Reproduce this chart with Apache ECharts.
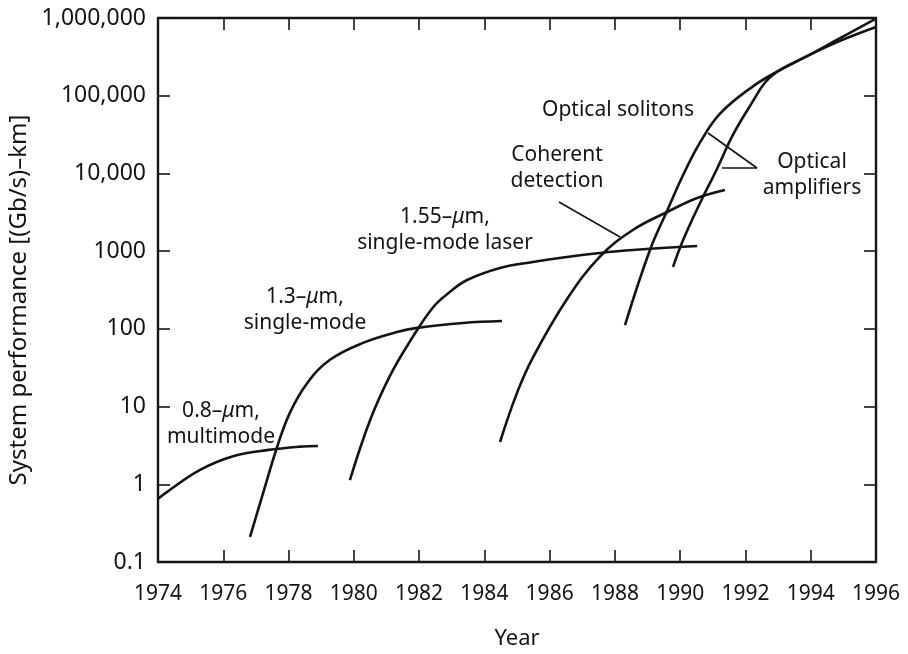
<!DOCTYPE html>
<html>
<head>
<meta charset="utf-8">
<script src="https://cdn.jsdelivr.net/npm/echarts@6/dist/echarts.min.js"></script>
<style>
html,body{margin:0;padding:0;background:#fff;}
#chart{width:908px;height:654px;}
</style>
</head>
<body>
<div id="chart"></div>
<script>
// ---- Data ----
const xTickLabels = ['1974','1976','1978','1980','1982','1984','1986','1988','1990','1992','1994','1996'];
const yTickLabels = ['0.1','1','10','100','1000','10,000','100,000','1,000,000'];

// 0.8-um multimode
const years08 = [1974.0, 1974.28, 1975.29, 1976.30, 1977.34, 1978.35, 1978.9];
const vals08  = [0.65, 0.80, 1.53, 2.29, 2.75, 3.05, 3.11];

// 1.3-um single-mode
const years13 = [1976.82, 1977.22, 1977.65, 1978.04, 1978.57, 1979.27, 1980.28, 1981.32, 1981.94, 1983.35, 1984.54];
const vals13  = [0.21, 0.77, 3.02, 8.3, 20, 40, 66, 91, 103, 119, 126];

// 1.55-um single-mode laser
const years155 = [1979.88, 1980.50, 1981.11, 1981.72, 1982.43, 1982.95, 1983.47, 1984.48, 1985.49, 1986.53, 1987.54, 1988.55, 1990.52];
const vals155  = [1.13, 6.7, 25, 69, 190, 300, 425, 607, 725, 841, 947, 1035, 1165];

// Coherent detection
const yearsCoh = [1984.48, 1985.0, 1985.49, 1986.53, 1987.54, 1988.55, 1989.60, 1990.52, 1991.37];
const valsCoh  = [3.5, 15, 43, 240, 850, 1870, 3190, 4830, 6120];

// Optical solitons / amplifiers (left steep curve)
const yearsAmpA = [1988.31, 1989.08, 1989.60, 1990.09, 1990.61, 1991.22, 1992.23, 1993.06, 1993.89, 1994.81, 1996.0];
const valsAmpA  = [112, 1050, 3310, 9550, 25100, 58900, 132000, 214000, 324000, 525000, 980000];

// Optical amplifiers (right steep curve)
const yearsAmpB = [1989.78, 1990.09, 1990.61, 1991.13, 1991.62, 1992.23, 1992.6, 1992.97, 1993.5, 1994.81, 1996.0];
const valsAmpB  = [625, 1390, 4170, 11500, 31600, 85100, 148000, 204000, 269000, 490000, 766000];

// ---- Build chart ----
const zip = (xs, ys) => xs.map((x, i) => [x, ys[i]]);
const FONT = '"Noto Sans", "DejaVu Sans", sans-serif';
const INK = '#141414';

const xMin = 1974, xMax = 1996, xStep = 2;

function curve(name, xs, ys) {
  return {
    name: name, type: 'line', data: zip(xs, ys),
    xAxisIndex: 0, yAxisIndex: 0,
    smooth: 0.4, showSymbol: false, symbol: 'none',
    lineStyle: { color: INK, width: 2.6 },
    emphasis: { disabled: true }, silent: true
  };
}

const commonX = {
  type: 'value', min: xMin, max: xMax, interval: xStep,
  axisLine: { show: true, lineStyle: { color: INK, width: 2.4 } },
  axisTick: { show: true, inside: true, length: 12, lineStyle: { color: INK, width: 1.6 } },
  splitLine: { show: false }
};
const commonY = {
  type: 'log', logBase: 10, min: 0.1, max: 1000000, splitNumber: 7,
  axisLine: { show: true, lineStyle: { color: INK, width: 2.4 } },
  axisTick: { show: true, inside: true, length: 12, lineStyle: { color: INK, width: 1.6 } },
  splitLine: { show: false }
};

const chart = echarts.init(document.getElementById('chart'), null, { renderer: 'canvas' });

const ANN = 21;
function label(text, x, y, align) {
  return {
    type: 'text', x: x, y: y, silent: true,
    style: {
      text: text, font: ANN + 'px ' + FONT, fontFamily: FONT, fontSize: ANN,
      fill: INK, align: align || 'center', verticalAlign: 'middle',
      textAlign: align || 'center', textVerticalAlign: 'middle', lineHeight: 26,
      rich: { it: { fontStyle: 'italic', fontFamily: FONT, fontSize: ANN, fill: INK, color: INK } }
    }
  };
}
function leader(x1, y1, x2, y2) {
  return { type: 'line', silent: true, shape: { x1, y1, x2, y2 }, style: { stroke: INK, lineWidth: 1.6 } };
}

chart.setOption({
  animation: false,
  backgroundColor: '#ffffff',
  textStyle: { fontFamily: FONT },
  grid: { left: 158, right: 32, top: 18, bottom: 92, containLabel: false, outerBoundsMode: 'none' },
  xAxis: [
    Object.assign({}, commonX, {
      position: 'bottom',
      name: 'Year', nameLocation: 'middle', nameGap: 66,
      nameTextStyle: { fontFamily: FONT, fontSize: 22, color: INK },
      axisLabel: {
        show: true, margin: 22, fontFamily: FONT, fontSize: 21, color: INK,
        formatter: v => xTickLabels[Math.round((v - xMin) / xStep)]
      }
    }),
    Object.assign({}, commonX, { position: 'top', axisLabel: { show: false } })
  ],
  yAxis: [
    Object.assign({}, commonY, {
      position: 'left',
      name: 'System performance [(Gb/s)\u2013km]', nameLocation: 'middle', nameGap: 123,
      nameTextStyle: { fontFamily: FONT, fontSize: 24, color: INK, padding: [0, 20, 0, 0] },
      axisLabel: {
        show: true, margin: 12, fontFamily: FONT, fontSize: 23, color: INK,
        formatter: v => yTickLabels[Math.round(Math.log10(v)) + 1]
      }
    }),
    Object.assign({}, commonY, { position: 'right', axisLabel: { show: false } })
  ],
  series: [
    curve('0.8-um multimode', years08, vals08),
    curve('1.3-um single-mode', years13, vals13),
    curve('1.55-um single-mode laser', years155, vals155),
    curve('Coherent detection', yearsCoh, valsCoh),
    curve('Optical amplifiers A', yearsAmpA, valsAmpA),
    curve('Optical amplifiers B', yearsAmpB, valsAmpB)
  ],
  graphic: [
    label('0.8\u2013{it|\u03bc}m,\nmultimode', 221, 424),
    label('1.3\u2013{it|\u03bc}m,\nsingle-mode', 305, 310),
    label('1.55\u2013{it|\u03bc}m,\nsingle-mode laser', 445, 230),
    label('Coherent\ndetection', 557, 168),
    label('Optical solitons', 618, 110),
    label('Optical\namplifiers', 812, 175),
    leader(559, 202, 620, 237),
    leader(757, 168, 708, 133),
    leader(757, 168, 722, 168)
  ]
});
</script>
</body>
</html>
